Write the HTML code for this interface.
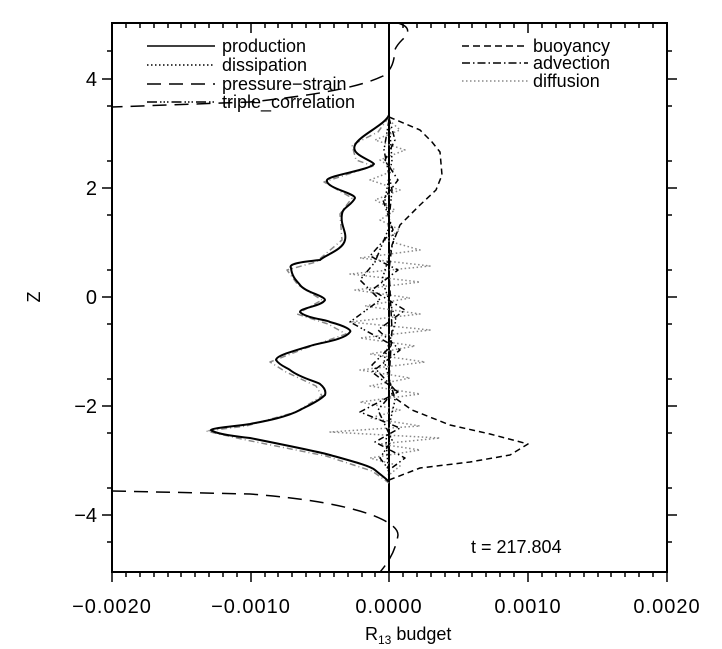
<!DOCTYPE html>
<html><head><meta charset="utf-8"><style>
html,body{margin:0;padding:0;background:#fff;}
svg{display:block;font-family:"Liberation Sans",sans-serif;}
</style></head><body>
<svg width="722" height="649" viewBox="0 0 722 649" xmlns="http://www.w3.org/2000/svg">
<rect width="722" height="649" fill="#fff"/>
<g fill="none" stroke="#000" stroke-width="2">
<rect x="112" y="23" width="555" height="549"/>
</g>
<g stroke="#000" stroke-width="1.5">
<path d="M112,572v10M251,572v10M389,572v10M528,572v10M667,572v10M112,23v10M251,23v10M389,23v10M528,23v10M667,23v10"/>
<path d="M126,572v5M140,572v5M154,572v5M168,572v5M181,572v5M195,572v5M209,572v5M223,572v5M237,572v5M265,572v5M278,572v5M292,572v5M306,572v5M320,572v5M334,572v5M348,572v5M362,572v5M375,572v5M403,572v5M417,572v5M431,572v5M445,572v5M459,572v5M472,572v5M486,572v5M500,572v5M514,572v5M542,572v5M556,572v5M570,572v5M584,572v5M598,572v5M611,572v5M625,572v5M639,572v5M653,572v5
M126,23v5M140,23v5M154,23v5M168,23v5M181,23v5M195,23v5M209,23v5M223,23v5M237,23v5M265,23v5M278,23v5M292,23v5M306,23v5M320,23v5M334,23v5M348,23v5M362,23v5M375,23v5M403,23v5M417,23v5M431,23v5M445,23v5M459,23v5M472,23v5M486,23v5M500,23v5M514,23v5M542,23v5M556,23v5M570,23v5M584,23v5M598,23v5M611,23v5M625,23v5M639,23v5M653,23v5"/>
<path d="M102,79h10M102,188h10M102,297h10M102,406h10M102,515h10M667,79h10M667,188h10M667,297h10M667,406h10M667,515h10"/>
<path d="M107,51h5M107,106h5M107,161h5M107,215h5M107,270h5M107,324h5M107,379h5M107,433h5M107,488h5M107,542h5M667,51h5M667,106h5M667,161h5M667,215h5M667,270h5M667,324h5M667,379h5M667,433h5M667,488h5M667,542h5"/>
</g>
<line x1="389" y1="23" x2="389" y2="572" stroke="#000" stroke-width="2"/>
<g fill="none" stroke-width="1.5" stroke-linejoin="round">
<polyline stroke="#888" stroke-dasharray="1.5,2.5" points="389,120 400,130 375,140 405,150 380,160 395,170 370,180 400,190 375,200 395,210 380,220 400,230 385,240 420,250 360,258 430,266 350,274 420,282 355,290 410,298 365,306 420,314 350,322 430,330 360,338 415,346 370,354 425,362 360,370 410,378 370,386 420,394 360,402 400,410 370,418 420,426 330,432 440,438 380,444 420,450 370,458 400,466 389,475"/>
<polyline stroke="#888" stroke-dasharray="6,3,1,3" points="389,117 378,132 352,145 356,160 373,166 324,182 352,198 340,214 342,240 316,262 287,270 298,285 322,300 297,314 328,324 346,334 306,348 270,362 286,372 316,386 322,396 296,412 246,426 206,431 246,440 326,456 372,471 389,483"/>
<path stroke="#000" stroke-width="2" d="M389,115 C385,125 360,135 355,145 C350,155 372,160 374,164 C370,170 330,175 327,180 C325,188 355,193 355,198 C352,205 342,208 342,214 C340,225 347,232 345,240 C343,250 325,255 320,260 C300,262 288,264 291,268 C292,278 298,282 300,285 C305,292 325,296 325,300 C322,306 300,308 300,312 C305,318 328,320 330,322 C345,326 352,330 350,332 C345,340 318,343 310,346 C290,352 276,356 276,360 C280,366 288,368 290,370 C300,378 318,382 320,384 C325,388 326,392 325,395 C318,402 305,407 300,410 C285,418 260,422 250,424 C230,427 212,428 211,430 C215,434 240,437 250,438 C285,445 320,452 330,455 C355,462 370,466 375,470 C382,476 387,479 389,482"/>
<polyline stroke="#000" stroke-dasharray="6,4" points="389,117 420,130 432,142 440,152 442,175 436,190 420,205 400,225 392,245 389,270 392,330 389,380 395,398 412,410 450,425 490,434 528,444 510,455 470,462 420,468 389,480"/>
<polyline stroke="#000" stroke-dasharray="6,3,1.5,3" points="389,118 395,140 385,160 398,180 383,200 393,230 370,256 398,270 372,290 405,310 378,330 400,350 372,372 398,392 360,412 400,428 375,442 405,458 389,470"/>
<polyline stroke="#000" stroke-dasharray="6,3,1.5,2,1.5,3" points="389,120 384,150 392,190 388,230 375,262 360,280 380,300 350,322 392,345 372,365 395,390 378,410 392,440 380,458 389,470"/>
<polyline stroke="#000" stroke-dasharray="1.5,2.5" points="389,120 392,160 385,200 394,240 382,280 396,320 384,360 395,400 386,440 389,480"/>
<path stroke="#000" stroke-dasharray="14,8" d="M398,23 Q415,28 402,40 Q392,50 394,58 Q392,70 383,76 Q350,92 250,102 L112,107"/>
<path stroke="#000" stroke-dasharray="14,8" d="M112,491 L250,494 Q330,500 372,515 Q398,525 398,535 Q395,555 380,572"/>
</g>
<g fill="none" stroke="#000" stroke-width="1.5">
<line x1="147" y1="46" x2="215" y2="46"/>
<line x1="147" y1="65" x2="215" y2="65" stroke-dasharray="1.5,2.5"/>
<line x1="147" y1="84" x2="215" y2="84" stroke-dasharray="14,8"/>
<line x1="147" y1="102" x2="215" y2="102" stroke-dasharray="10,3,1.5,2,1.5,2,1.5,3"/>
<line x1="462" y1="46" x2="528" y2="46" stroke-dasharray="7,4"/>
<line x1="462" y1="63" x2="528" y2="63" stroke-dasharray="8,3,1.5,3"/>
<line x1="462" y1="81" x2="528" y2="81" stroke="#888" stroke-dasharray="1.5,2.5"/>
</g>
<g font-size="18" fill="#000">
<text x="222" y="52">production</text>
<text x="222" y="71">dissipation</text>
<text x="222" y="90">pressure−strain</text>
<text x="222" y="108">triple_correlation</text>
<text x="533" y="52">buoyancy</text>
<text x="533" y="69">advection</text>
<text x="533" y="87">diffusion</text>
<text x="471" y="553">t = 217.804</text>
</g>
<g font-size="20" fill="#000" text-anchor="middle" letter-spacing="1">
<text x="112" y="613">−0.0020</text>
<text x="251" y="613">−0.0010</text>
<text x="389" y="613">0.0000</text>
<text x="528" y="613">0.0010</text>
<text x="667" y="613">0.0020</text>
</g>
<text x="365" y="640" font-size="18" fill="#000">R<tspan font-size="12" dy="4">13</tspan><tspan dy="-4"> budget</tspan></text>
<g font-size="20" fill="#000" text-anchor="end">
<text x="97" y="86">4</text>
<text x="97" y="195">2</text>
<text x="97" y="304">0</text>
<text x="97" y="413">−2</text>
<text x="97" y="522">−4</text>
</g>
<text x="40" y="297" font-size="18" text-anchor="middle" transform="rotate(-90 40 297)">Z</text>
</svg>
</body></html>
